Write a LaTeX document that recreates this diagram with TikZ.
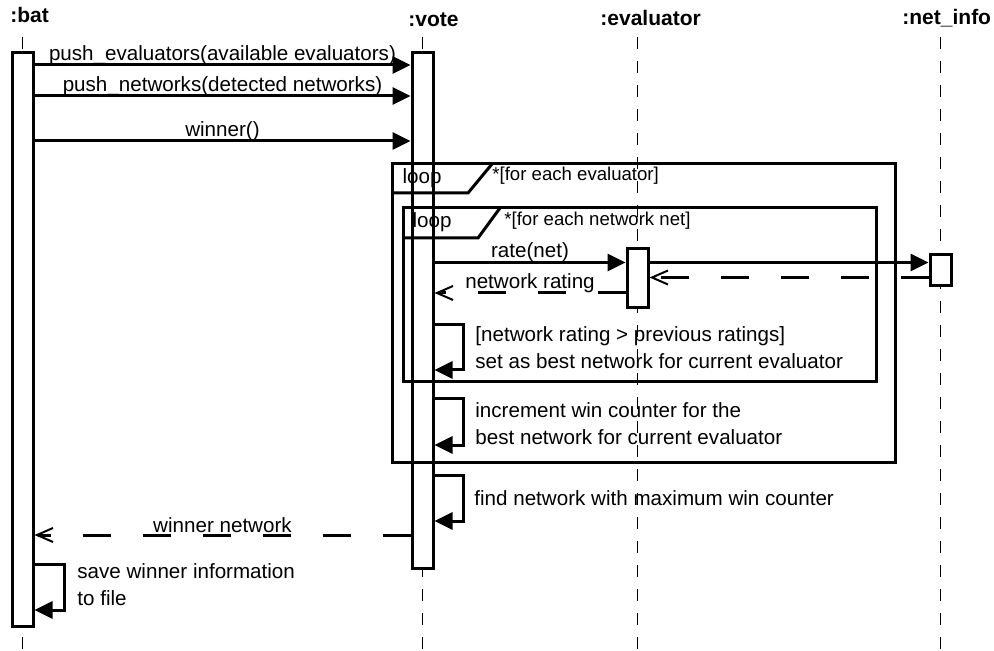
\documentclass[tikz,border=0pt]{standalone}
\usepackage{fontspec}
\setmainfont{Liberation Sans}
\usetikzlibrary{arrows.meta,positioning}
\tikzset{
  life/.style={line width=0.75pt,dash pattern=on 6pt off 6pt},
  act/.style={draw,fill=white,line width=1.5pt,minimum width=10.5pt,inner sep=0pt,anchor=north},
  msg/.style={line width=1.5pt,-{Triangle[length=9pt,width=8.5pt]}},
  ret/.style={line width=1.5pt,dash pattern=on 14pt off 16pt,-{Straight Barb[length=8pt,width=7pt,line width=1pt]}},
  frm/.style={line width=1.5pt},
  lbl/.style={font=\fontsize{10.3}{13.5}\selectfont,inner sep=0pt},
  ttl/.style={font=\fontsize{10.5}{12}\selectfont\bfseries,inner sep=0pt,anchor=base west},
  cnd/.style={font=\fontsize{9.3}{11}\selectfont,inner sep=0pt,anchor=west},
  note/.style={lbl,align=left,anchor=west}
}

\begin{document}
\begin{tikzpicture}[x=0.5pt,y=-0.5pt]
\useasboundingbox (0,0) rectangle (994,651);
\node[ttl] (bat) at (10,23) {:bat};
\node[ttl] (vote) at (408,27) {:vote};
\node[ttl] (eval) at (600,26) {:evaluator};
\node[ttl] (net) at (902,25) {:net\_info};
\coordinate (battop) at (22.5,37);
\coordinate (votetop) at (422.5,37);
\coordinate (evaltop) at (637.5,37);
\coordinate (nettop) at (940.5,37);
\draw[life] (battop) -- (battop |- 0,651);
\draw[life] (votetop) -- (votetop |- 0,651);
\draw[life] (evaltop) -- (evaltop |- 0,651);
\draw[life] (nettop) -- (nettop |- 0,651);
\node[act,minimum height=287pt] (batbox) at (22.5,51) {};
\node[act,minimum height=258pt] (votebox) at (422.5,51) {};
\node[act,minimum height=29.5pt] (evalbox) at (637.5,247) {};
\node[act,minimum height=15.5pt] (netbox) at (940.5,253) {};
\draw[frm] (392,164) rectangle (895,462);
\draw[frm] (392,193) -- (468,193) -- (492,164);
\node[lbl] (loop1) at (422,178) {loop};
\node[cnd] (cond1) at (492,176) {*[for each evaluator]};
\draw[frm] (403,208) rectangle (876,382);
\draw[frm] (403,238) -- (478,238) -- (500,208);
\node[lbl] (loop2) at (432,222) {loop};
\node[cnd] (cond2) at (504,221) {*[for each network net]};
\draw[msg] (batbox.east |- 0,65) -- (votebox.west |- 0,65) node[lbl,midway,anchor=base,yshift=2pt] {push\_evaluators(available evaluators)};
\draw[msg] (batbox.east |- 0,96) -- (votebox.west |- 0,96) node[lbl,midway,anchor=base,yshift=2pt] {push\_networks(detected networks)};
\draw[msg] (batbox.east |- 0,141) -- (votebox.west |- 0,141) node[lbl,midway,anchor=base,yshift=2pt] {winner()};
\draw[msg] (votebox.east |- 0,262.5) -- (evalbox.west |- 0,262.5) node[lbl,midway,anchor=base,yshift=2.5pt] {rate(net)};
\draw[msg] (evalbox.east |- 0,262.5) -- (netbox.west |- 0,262.5);
\draw[ret] (netbox.west |- 0,277.5) -- (evalbox.east |- 0,277.5);
\draw[ret] (evalbox.west |- 0,293) -- (votebox.east |- 0,293) node[lbl,midway,anchor=base,yshift=2pt] {network rating};
\draw[msg] (votebox.east |- 0,325) -- ++(29,0) |- (votebox.east |- 0,370);
\node[note] (best) at (475,348) {[network rating > previous ratings]\\set as best network for current evaluator};
\draw[msg] (votebox.east |- 0,399) -- ++(29,0) |- (votebox.east |- 0,445);
\node[note] (incr) at (475,423.5) {increment win counter for the\\best network for current evaluator};
\draw[msg] (votebox.east |- 0,475) -- ++(29,0) |- (votebox.east |- 0,521);
\node[note] (find) at (474,498) {find network with maximum win counter};
\draw[ret] (votebox.west |- 0,535) -- (batbox.east |- 0,535) node[lbl,midway,anchor=base,yshift=1.5pt] {winner network};
\draw[msg] (batbox.east |- 0,564) -- ++(30,0) |- (batbox.east |- 0,610);
\node[note] (save) at (77,585) {save winner information\\to file};
\end{tikzpicture}
\end{document}
